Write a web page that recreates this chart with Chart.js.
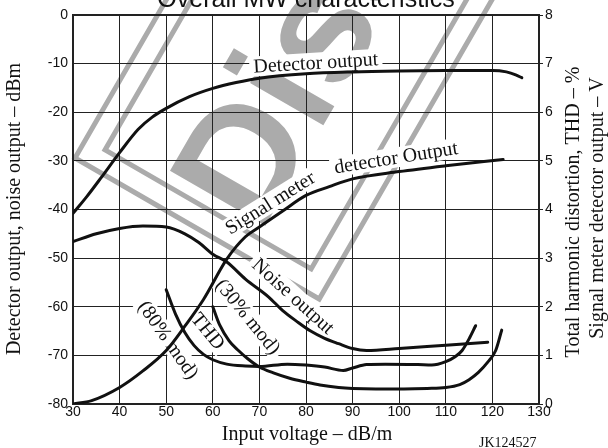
<!DOCTYPE html>
<html>
<head>
<meta charset="utf-8">
<script src="https://cdn.jsdelivr.net/npm/chart.js@4.4.0/dist/chart.umd.min.js"></script>
<style>
  html, body { margin: 0; padding: 0; background: #fff; }
  #wrap { width: 608px; height: 448px; }
</style>
</head>
<body>
<div id="wrap"><canvas id="mw"></canvas></div>
<script>
// input voltage (dB/m) against level (dBm) for each curve
const detectorInput = [30, 33, 36, 40, 44, 47, 50, 55, 60, 65, 70, 80, 90, 100, 110, 120, 123, 125, 126.3];
const detectorLevel = [-40.8, -37.3, -33.5, -28.3, -23.5, -21, -19.2, -16.8, -15.1, -13.9, -13.0, -12.1, -11.7, -11.5, -11.4, -11.4, -11.7, -12.3, -12.9];

const meterInput = [30, 34, 40, 45, 50, 54, 58, 63, 67, 70, 75, 80, 85, 90, 100, 110, 122.3];
const meterLevel = [-80, -79.3, -76.6, -73.2, -69, -64, -58.5, -50.2, -45.6, -43.6, -40.3, -37.1, -35.3, -33.7, -32.2, -31.0, -29.7];

const noiseInput = [30, 35, 40, 45, 50, 54, 57, 60, 63, 67, 72, 75, 78, 81, 84, 87, 90, 93, 100, 110, 119];
const noiseLevel = [-46.6, -45, -43.9, -43.4, -43.6, -45, -46.8, -49.2, -50.8, -54.3, -58, -60.8, -63, -65, -66.5, -67.6, -68.6, -69, -68.6, -67.9, -67.3];

const thd80Input = [50, 52, 54, 56, 58, 60, 63, 67, 70, 76, 80, 84, 88, 90, 93, 97, 104, 107, 110, 112, 113.5, 115, 116.4];
const thd80Level = [-56.5, -61.5, -65.3, -68, -69.8, -70.9, -71.8, -72.2, -72.3, -71.8, -72, -72.4, -73.1, -72.6, -71.9, -71.8, -71.9, -72, -71.3, -70.3, -69, -66.6, -63.9];

const thd30Input = [60, 61.5, 63.5, 65.5, 67.5, 70, 73, 76.5, 80, 83, 87, 90, 95, 101, 106, 110, 113, 115, 117, 119, 120.7, 122];
const thd30Level = [-60, -63.8, -67, -69, -70.7, -72.4, -73.6, -74.7, -75.5, -76.1, -76.6, -76.8, -76.9, -76.9, -76.8, -76.6, -76, -75, -73.5, -71.4, -69, -64.8];

// axis ranges
const inputRange = [30, 130];
const levelRange = [-80, 0];
const rightRange = [0, 8];

const SANS = "'Liberation Sans', Arial, sans-serif";
const SERIF = "'Liberation Serif', 'Times New Roman', serif";

function series(xs, ys) {
  return {
    data: xs.map((x, i) => ({ x: x, y: ys[i] })),
    borderColor: "#111",
    borderWidth: 3,
    borderCapStyle: "round",
    pointRadius: 0,
    cubicInterpolationMode: "monotone",
    fill: false,
    yAxisID: "y",
  };
}

// curve captions, placed in data units: [text, input, level, angle]
const captions = [
  ["Detector output", 82.1, -9.8, -3.5],
  ["Signal meter", 72.3, -38.6, -32],
  ["detector Output", 99.3, -29.3, -9],
  ["Noise output", 77.3, -57.8, 42],
  ["(30% mod)", 67.6, -62, 51],
  ["THD", 59, -65, 51],
  ["(80% mod)", 50.5, -66.8, 55],
];

// grey "Discontinued" stamp behind the grid
const stamp = {
  id: "stamp",
  beforeDraw(chart) {
    const ctx = chart.ctx;
    ctx.save();
    ctx.fillStyle = "#fff";
    ctx.fillRect(0, 0, chart.width, chart.height);
    const u = [Math.cos(Math.PI / 6), Math.sin(Math.PI / 6)];
    const v = [Math.cos(-Math.PI / 3), Math.sin(-Math.PI / 3)];
    const frame = (ox, oy, a, b) => {
      ctx.beginPath();
      ctx.moveTo(ox, oy);
      ctx.lineTo(ox + a * u[0], oy + a * u[1]);
      ctx.lineTo(ox + a * u[0] + b * v[0], oy + a * u[1] + b * v[1]);
      ctx.lineTo(ox + b * v[0], oy + b * v[1]);
      ctx.closePath();
      ctx.stroke();
    };
    ctx.strokeStyle = "#ababab";
    ctx.lineWidth = 5;
    frame(75, 158, 282, 760);
    frame(75 + 22 * (u[0] + v[0]), 158 + 22 * (u[1] + v[1]), 238, 716);

    ctx.fillStyle = "#ababab";
    ctx.translate(260, 235);
    ctx.rotate(-Math.PI / 3);
    ctx.font = "bold 160px " + SANS;
    ctx.textBaseline = "alphabetic";
    ctx.textAlign = "left";
    ctx.fillText("Discontinued", 0, 0);
    ctx.restore();
  },
};

const notes = {
  id: "notes",
  beforeDatasetsDraw(chart) {
    const ctx = chart.ctx;
    const xs = chart.scales.x, ys = chart.scales.y;
    ctx.save();
    ctx.font = "20px " + SERIF;
    ctx.textAlign = "center";
    ctx.textBaseline = "middle";
    captions.forEach(([text, x, y, deg]) => {
      const w = ctx.measureText(text).width;
      ctx.save();
      ctx.translate(xs.getPixelForValue(x), ys.getPixelForValue(y));
      ctx.rotate(deg * Math.PI / 180);
      ctx.fillStyle = "#fff";
      ctx.fillRect(-w / 2 - 4, -10, w + 8, 20);
      ctx.fillStyle = "#111";
      ctx.fillText(text, 0, 1);
      ctx.restore();
    });
    // plot frame
    const a = chart.chartArea;
    ctx.strokeStyle = "#222";
    ctx.lineWidth = 2;
    ctx.strokeRect(a.left, a.top, a.right - a.left, a.bottom - a.top);
    ctx.restore();
  },
  afterDraw(chart) {
    const ctx = chart.ctx;
    ctx.save();
    ctx.fillStyle = "#111";
    ctx.textAlign = "center";
    ctx.textBaseline = "alphabetic";
    ctx.font = "25px " + SANS;
    ctx.fillText("Overall MW characteristics", 306, 7);

    ctx.font = "20px " + SERIF;
    ctx.textBaseline = "middle";
    ctx.fillText("Input voltage \u2013 dB/m", 307, 435);

    const vertical = (text, x, y) => {
      ctx.save();
      ctx.translate(x, y);
      ctx.rotate(-Math.PI / 2);
      ctx.fillText(text, 0, 0);
      ctx.restore();
    };
    vertical("Detector output, noise output \u2013 dBm", 15, 209);
    vertical("Total harmonic distortion, THD \u2013 %", 574, 212);
    vertical("Signal meter detector output \u2013 V", 598, 208);

    ctx.font = "14px " + SERIF;
    ctx.textAlign = "left";
    ctx.textBaseline = "alphabetic";
    ctx.fillText("JK124527", 479, 447);
    ctx.restore();
  },
};

const tickFont = { family: SANS, size: 14 };

new Chart(document.getElementById("mw"), {
  type: "line",
  data: {
    datasets: [
      series(detectorInput, detectorLevel),
      series(meterInput, meterLevel),
      series(noiseInput, noiseLevel),
      series(thd80Input, thd80Level),
      series(thd30Input, thd30Level),
    ],
  },
  options: {
    responsive: true,
    maintainAspectRatio: false,
    animation: false,
    devicePixelRatio: 1,
    layout: { padding: { top: 15, left: 0, right: 0, bottom: 0 } },
    plugins: { legend: { display: false }, tooltip: { enabled: false } },
    scales: {
      x: {
        type: "linear",
        min: inputRange[0],
        max: inputRange[1],
        ticks: { stepSize: 10, autoSkip: false, maxRotation: 0, color: "#111", font: tickFont, padding: 0 },
        grid: { color: "#222", lineWidth: 1, drawTicks: false },
        border: { display: false },
        afterFit(s) { s.height = 44; },
      },
      y: {
        min: levelRange[0],
        max: levelRange[1],
        ticks: { stepSize: 10, color: "#111", font: tickFont, padding: 5 },
        grid: { color: "#222", lineWidth: 1, drawTicks: false },
        border: { display: false },
        afterFit(s) { s.width = 73; },
      },
      y2: {
        position: "right",
        min: rightRange[0],
        max: rightRange[1],
        ticks: { stepSize: 1, color: "#111", font: tickFont, padding: 2 },
        grid: { drawOnChartArea: false, color: "#222", tickLength: 4 },
        border: { display: false },
        afterFit(s) { s.width = 69; },
      },
    },
  },
  plugins: [stamp, notes],
});
</script>
</body>
</html>
